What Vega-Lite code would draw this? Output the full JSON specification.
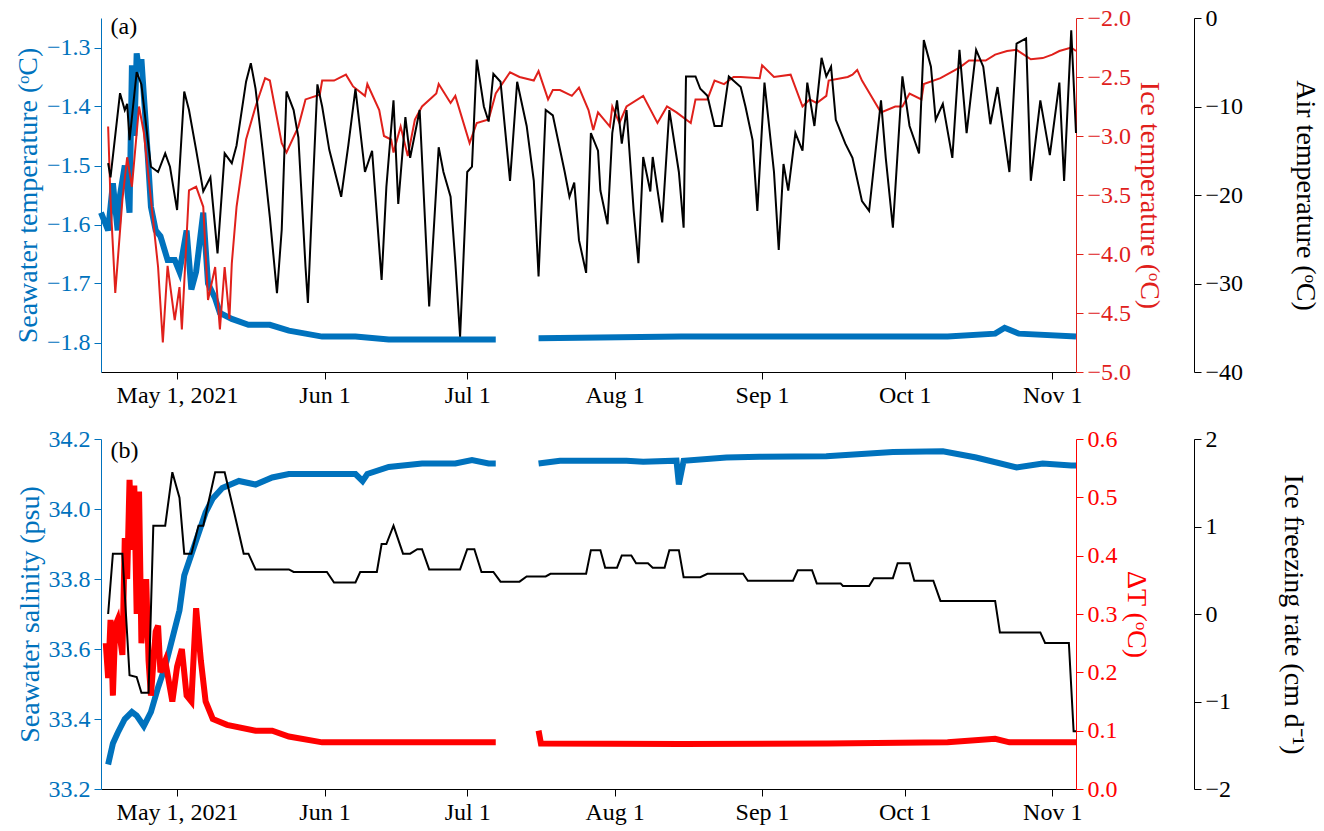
{
  "$schema": "https://vega.github.io/schema/vega-lite/v6.json",
  "padding": {"left": 14, "top": 6, "right": 5, "bottom": 2},
  "spacing": 20,
  "datasets": {
    "seaT": [
      {"t": "2021-04-15T00:00", "v": -1.58, "s": 1}, {"t": "2021-04-16T12:00", "v": -1.61, "s": 1}, {"t": "2021-04-17T12:00", "v": -1.53, "s": 1},
      {"t": "2021-04-18T12:00", "v": -1.61, "s": 1}, {"t": "2021-04-19T00:00", "v": -1.55, "s": 1}, {"t": "2021-04-20T00:00", "v": -1.5, "s": 1},
      {"t": "2021-04-21T00:00", "v": -1.58, "s": 1}, {"t": "2021-04-21T12:00", "v": -1.33, "s": 1}, {"t": "2021-04-22T00:00", "v": -1.45, "s": 1},
      {"t": "2021-04-22T12:00", "v": -1.31, "s": 1}, {"t": "2021-04-23T00:00", "v": -1.34, "s": 1}, {"t": "2021-04-23T12:00", "v": -1.32, "s": 1},
      {"t": "2021-04-24T12:00", "v": -1.44, "s": 1}, {"t": "2021-04-25T12:00", "v": -1.57, "s": 1}, {"t": "2021-04-26T12:00", "v": -1.61, "s": 1},
      {"t": "2021-04-27T12:00", "v": -1.62, "s": 1}, {"t": "2021-04-29T00:00", "v": -1.66, "s": 1}, {"t": "2021-04-30T12:00", "v": -1.66, "s": 1},
      {"t": "2021-05-01T12:00", "v": -1.68, "s": 1}, {"t": "2021-05-03T00:00", "v": -1.61, "s": 1}, {"t": "2021-05-04T00:00", "v": -1.71, "s": 1},
      {"t": "2021-05-05T00:00", "v": -1.68, "s": 1}, {"t": "2021-05-06T12:00", "v": -1.58, "s": 1}, {"t": "2021-05-07T12:00", "v": -1.7, "s": 1},
      {"t": "2021-05-09T00:00", "v": -1.725, "s": 1}, {"t": "2021-05-10T00:00", "v": -1.75, "s": 1}, {"t": "2021-05-12T12:00", "v": -1.76, "s": 1},
      {"t": "2021-05-16T00:00", "v": -1.77, "s": 1}, {"t": "2021-05-20T12:00", "v": -1.77, "s": 1}, {"t": "2021-05-24T12:00", "v": -1.78, "s": 1},
      {"t": "2021-05-31T12:00", "v": -1.79, "s": 1}, {"t": "2021-06-07T12:00", "v": -1.79, "s": 1}, {"t": "2021-06-14T12:00", "v": -1.795, "s": 1},
      {"t": "2021-06-21T12:00", "v": -1.795, "s": 1}, {"t": "2021-06-28T12:00", "v": -1.795, "s": 1}, {"t": "2021-07-07T00:00", "v": -1.795, "s": 1},
      {"t": "2021-07-16T00:00", "v": -1.793, "s": 2}, {"t": "2021-08-15T00:00", "v": -1.79, "s": 2}, {"t": "2021-09-15T00:00", "v": -1.79, "s": 2},
      {"t": "2021-10-10T00:00", "v": -1.79, "s": 2}, {"t": "2021-10-20T00:00", "v": -1.785, "s": 2}, {"t": "2021-10-22T00:00", "v": -1.775, "s": 2},
      {"t": "2021-10-25T00:00", "v": -1.785, "s": 2}, {"t": "2021-11-06T00:00", "v": -1.79, "s": 2}
    ],
    "iceT": [
      {"t": "2021-04-16T12:00", "v": -2.92}, {"t": "2021-04-17T00:00", "v": -3.54}, {"t": "2021-04-18T00:00", "v": -4.33}, {"t": "2021-04-19T12:00", "v": -3.54},
      {"t": "2021-04-20T12:00", "v": -3.18}, {"t": "2021-04-21T12:00", "v": -3.43}, {"t": "2021-04-23T00:00", "v": -2.75}, {"t": "2021-04-24T00:00", "v": -2.97},
      {"t": "2021-04-25T12:00", "v": -3.54}, {"t": "2021-04-27T00:00", "v": -4.11}, {"t": "2021-04-28T00:00", "v": -4.75}, {"t": "2021-04-29T00:00", "v": -4.1},
      {"t": "2021-04-30T12:00", "v": -4.56}, {"t": "2021-05-01T12:00", "v": -4.28}, {"t": "2021-05-02T00:00", "v": -4.64}, {"t": "2021-05-03T12:00", "v": -3.46},
      {"t": "2021-05-05T00:00", "v": -3.43}, {"t": "2021-05-06T12:00", "v": -3.6}, {"t": "2021-05-07T12:00", "v": -4.39}, {"t": "2021-05-09T00:00", "v": -4.11},
      {"t": "2021-05-10T00:00", "v": -4.64}, {"t": "2021-05-11T00:00", "v": -4.11}, {"t": "2021-05-12T00:00", "v": -4.55}, {"t": "2021-05-12T12:00", "v": -4.08},
      {"t": "2021-05-13T12:00", "v": -3.6}, {"t": "2021-05-15T12:00", "v": -3.03}, {"t": "2021-05-17T12:00", "v": -2.75}, {"t": "2021-05-19T12:00", "v": -2.51},
      {"t": "2021-05-20T12:00", "v": -2.53}, {"t": "2021-05-23T00:00", "v": -3.06}, {"t": "2021-05-24T00:00", "v": -3.14}, {"t": "2021-05-26T12:00", "v": -2.92},
      {"t": "2021-05-28T00:00", "v": -2.69}, {"t": "2021-05-31T00:00", "v": -2.65}, {"t": "2021-05-31T12:00", "v": -2.53}, {"t": "2021-06-03T00:00", "v": -2.53},
      {"t": "2021-06-05T12:00", "v": -2.48}, {"t": "2021-06-07T00:00", "v": -2.58}, {"t": "2021-06-09T12:00", "v": -2.66}, {"t": "2021-06-10T00:00", "v": -2.56},
      {"t": "2021-06-12T12:00", "v": -2.78}, {"t": "2021-06-13T12:00", "v": -3.0}, {"t": "2021-06-15T00:00", "v": -3.03}, {"t": "2021-06-15T12:00", "v": -3.14},
      {"t": "2021-06-17T00:00", "v": -2.92}, {"t": "2021-06-18T12:00", "v": -3.17}, {"t": "2021-06-20T00:00", "v": -2.86}, {"t": "2021-06-21T12:00", "v": -2.75},
      {"t": "2021-06-24T12:00", "v": -2.64}, {"t": "2021-06-25T00:00", "v": -2.56}, {"t": "2021-06-27T12:00", "v": -2.72}, {"t": "2021-06-28T12:00", "v": -2.66},
      {"t": "2021-07-01T12:00", "v": -3.06}, {"t": "2021-07-03T00:00", "v": -2.89}, {"t": "2021-07-05T12:00", "v": -2.86}, {"t": "2021-07-07T00:00", "v": -2.64},
      {"t": "2021-07-10T00:00", "v": -2.46}, {"t": "2021-07-12T00:00", "v": -2.5}, {"t": "2021-07-15T00:00", "v": -2.53}, {"t": "2021-07-16T00:00", "v": -2.45},
      {"t": "2021-07-18T00:00", "v": -2.69}, {"t": "2021-07-19T00:00", "v": -2.61}, {"t": "2021-07-20T12:00", "v": -2.61}, {"t": "2021-07-23T00:00", "v": -2.66},
      {"t": "2021-07-24T12:00", "v": -2.59}, {"t": "2021-07-26T12:00", "v": -2.78}, {"t": "2021-07-27T12:00", "v": -2.95}, {"t": "2021-07-28T12:00", "v": -2.8},
      {"t": "2021-07-31T00:00", "v": -2.92}, {"t": "2021-07-31T12:00", "v": -2.75}, {"t": "2021-08-02T00:00", "v": -2.89}, {"t": "2021-08-03T12:00", "v": -2.75},
      {"t": "2021-08-07T00:00", "v": -2.66}, {"t": "2021-08-10T00:00", "v": -2.89}, {"t": "2021-08-12T00:00", "v": -2.75}, {"t": "2021-08-14T00:00", "v": -2.8},
      {"t": "2021-08-17T00:00", "v": -2.89}, {"t": "2021-08-18T00:00", "v": -2.69}, {"t": "2021-08-20T12:00", "v": -2.69}, {"t": "2021-08-22T00:00", "v": -2.53},
      {"t": "2021-08-24T00:00", "v": -2.56}, {"t": "2021-08-26T00:00", "v": -2.5}, {"t": "2021-08-27T12:00", "v": -2.5}, {"t": "2021-08-31T12:00", "v": -2.51},
      {"t": "2021-09-01T00:00", "v": -2.4}, {"t": "2021-09-03T12:00", "v": -2.5}, {"t": "2021-09-07T00:00", "v": -2.48}, {"t": "2021-09-09T12:00", "v": -2.75},
      {"t": "2021-09-11T00:00", "v": -2.69}, {"t": "2021-09-12T12:00", "v": -2.72}, {"t": "2021-09-14T12:00", "v": -2.66}, {"t": "2021-09-15T00:00", "v": -2.53},
      {"t": "2021-09-19T00:00", "v": -2.5}, {"t": "2021-09-20T00:00", "v": -2.48}, {"t": "2021-09-21T00:00", "v": -2.44}, {"t": "2021-09-22T00:00", "v": -2.53},
      {"t": "2021-09-26T00:00", "v": -2.8}, {"t": "2021-09-29T00:00", "v": -2.75}, {"t": "2021-09-30T12:00", "v": -2.75}, {"t": "2021-10-02T00:00", "v": -2.64},
      {"t": "2021-10-04T12:00", "v": -2.69}, {"t": "2021-10-05T00:00", "v": -2.56}, {"t": "2021-10-08T12:00", "v": -2.51}, {"t": "2021-10-12T12:00", "v": -2.42},
      {"t": "2021-10-14T12:00", "v": -2.36}, {"t": "2021-10-18T00:00", "v": -2.36}, {"t": "2021-10-20T00:00", "v": -2.31}, {"t": "2021-10-22T12:00", "v": -2.28},
      {"t": "2021-10-24T12:00", "v": -2.27}, {"t": "2021-10-27T12:00", "v": -2.35}, {"t": "2021-10-30T00:00", "v": -2.34}, {"t": "2021-11-01T00:00", "v": -2.31},
      {"t": "2021-11-02T12:00", "v": -2.28}, {"t": "2021-11-05T00:00", "v": -2.25}, {"t": "2021-11-06T00:00", "v": -2.28}
    ],
    "airT": [
      {"t": "2021-04-16T12:00", "v": -16.4}, {"t": "2021-04-17T00:00", "v": -18}, {"t": "2021-04-19T00:00", "v": -8.5}, {"t": "2021-04-20T00:00", "v": -10.4},
      {"t": "2021-04-20T12:00", "v": -9.7}, {"t": "2021-04-21T00:00", "v": -13.8}, {"t": "2021-04-22T12:00", "v": -6.1}, {"t": "2021-04-23T12:00", "v": -7.5},
      {"t": "2021-04-24T12:00", "v": -12.2}, {"t": "2021-04-25T12:00", "v": -16.8}, {"t": "2021-04-27T00:00", "v": -17.4}, {"t": "2021-04-28T12:00", "v": -15.3},
      {"t": "2021-04-29T12:00", "v": -16.8}, {"t": "2021-05-01T00:00", "v": -21.7}, {"t": "2021-05-02T12:00", "v": -8.3}, {"t": "2021-05-03T12:00", "v": -10.4},
      {"t": "2021-05-05T00:00", "v": -14.9}, {"t": "2021-05-06T12:00", "v": -19.6}, {"t": "2021-05-08T00:00", "v": -18}, {"t": "2021-05-09T12:00", "v": -26.6},
      {"t": "2021-05-11T00:00", "v": -15.3}, {"t": "2021-05-12T12:00", "v": -16.4}, {"t": "2021-05-13T12:00", "v": -14.4}, {"t": "2021-05-15T12:00", "v": -7.2},
      {"t": "2021-05-16T12:00", "v": -5.1}, {"t": "2021-05-17T12:00", "v": -8}, {"t": "2021-05-19T00:00", "v": -15}, {"t": "2021-05-20T12:00", "v": -22.5},
      {"t": "2021-05-22T00:00", "v": -31.1}, {"t": "2021-05-23T00:00", "v": -23.9}, {"t": "2021-05-24T00:00", "v": -8.3}, {"t": "2021-05-25T12:00", "v": -10.4},
      {"t": "2021-05-26T12:00", "v": -13.5}, {"t": "2021-05-28T00:00", "v": -28.1}, {"t": "2021-05-28T12:00", "v": -32.2}, {"t": "2021-05-29T12:00", "v": -19.6},
      {"t": "2021-05-30T12:00", "v": -7.5}, {"t": "2021-05-31T12:00", "v": -10}, {"t": "2021-06-02T00:00", "v": -14.9}, {"t": "2021-06-04T12:00", "v": -20.2},
      {"t": "2021-06-06T00:00", "v": -14.4}, {"t": "2021-06-07T12:00", "v": -8}, {"t": "2021-06-09T12:00", "v": -17.4}, {"t": "2021-06-11T00:00", "v": -15},
      {"t": "2021-06-13T00:00", "v": -29.6}, {"t": "2021-06-14T00:00", "v": -19.1}, {"t": "2021-06-15T12:00", "v": -9.3}, {"t": "2021-06-16T12:00", "v": -21},
      {"t": "2021-06-18T00:00", "v": -11.2}, {"t": "2021-06-19T00:00", "v": -15.8}, {"t": "2021-06-21T00:00", "v": -10.4}, {"t": "2021-06-23T00:00", "v": -32.6},
      {"t": "2021-06-25T00:00", "v": -14.6}, {"t": "2021-06-26T00:00", "v": -17.4}, {"t": "2021-06-27T12:00", "v": -20.2}, {"t": "2021-06-28T12:00", "v": -27.6},
      {"t": "2021-06-29T12:00", "v": -36}, {"t": "2021-07-01T00:00", "v": -17.4}, {"t": "2021-07-02T00:00", "v": -16.8}, {"t": "2021-07-03T00:00", "v": -4.7},
      {"t": "2021-07-04T12:00", "v": -10}, {"t": "2021-07-05T12:00", "v": -11.7}, {"t": "2021-07-06T12:00", "v": -6.3}, {"t": "2021-07-08T00:00", "v": -7.2},
      {"t": "2021-07-10T00:00", "v": -18.4}, {"t": "2021-07-11T12:00", "v": -7.2}, {"t": "2021-07-13T12:00", "v": -12.2}, {"t": "2021-07-15T00:00", "v": -18.4},
      {"t": "2021-07-16T00:00", "v": -29.2}, {"t": "2021-07-17T12:00", "v": -10.4}, {"t": "2021-07-19T00:00", "v": -11}, {"t": "2021-07-21T12:00", "v": -17.4},
      {"t": "2021-07-22T12:00", "v": -20.2}, {"t": "2021-07-23T12:00", "v": -18.6}, {"t": "2021-07-24T12:00", "v": -25.1}, {"t": "2021-07-26T00:00", "v": -28.8},
      {"t": "2021-07-27T00:00", "v": -13}, {"t": "2021-07-28T12:00", "v": -15}, {"t": "2021-07-29T00:00", "v": -19.5}, {"t": "2021-07-30T12:00", "v": -23.3},
      {"t": "2021-07-31T12:00", "v": -13}, {"t": "2021-08-01T12:00", "v": -9.3}, {"t": "2021-08-02T12:00", "v": -14.2}, {"t": "2021-08-03T12:00", "v": -10.4},
      {"t": "2021-08-05T00:00", "v": -21.8}, {"t": "2021-08-06T00:00", "v": -27.7}, {"t": "2021-08-07T00:00", "v": -15.7}, {"t": "2021-08-08T12:00", "v": -19.6},
      {"t": "2021-08-09T00:00", "v": -15.7}, {"t": "2021-08-11T00:00", "v": -23.1}, {"t": "2021-08-12T12:00", "v": -10.4}, {"t": "2021-08-14T12:00", "v": -17.4},
      {"t": "2021-08-15T12:00", "v": -23.7}, {"t": "2021-08-16T00:00", "v": -6.6}, {"t": "2021-08-18T00:00", "v": -6.6}, {"t": "2021-08-19T00:00", "v": -8},
      {"t": "2021-08-20T12:00", "v": -8.8}, {"t": "2021-08-22T00:00", "v": -12.2}, {"t": "2021-08-23T12:00", "v": -12.2}, {"t": "2021-08-25T00:00", "v": -6.6},
      {"t": "2021-08-27T12:00", "v": -7.8}, {"t": "2021-08-28T12:00", "v": -10}, {"t": "2021-08-30T00:00", "v": -13.8}, {"t": "2021-08-31T00:00", "v": -21.8},
      {"t": "2021-09-01T12:00", "v": -7.3}, {"t": "2021-09-03T12:00", "v": -17.4}, {"t": "2021-09-04T12:00", "v": -26.2}, {"t": "2021-09-05T12:00", "v": -16.5},
      {"t": "2021-09-06T12:00", "v": -19.5}, {"t": "2021-09-08T00:00", "v": -13}, {"t": "2021-09-09T12:00", "v": -15}, {"t": "2021-09-10T12:00", "v": -7.3},
      {"t": "2021-09-12T00:00", "v": -12.2}, {"t": "2021-09-13T12:00", "v": -4.5}, {"t": "2021-09-14T12:00", "v": -6.6}, {"t": "2021-09-15T12:00", "v": -5.5},
      {"t": "2021-09-16T12:00", "v": -11.5}, {"t": "2021-09-18T12:00", "v": -14.2}, {"t": "2021-09-20T00:00", "v": -15.8}, {"t": "2021-09-22T00:00", "v": -20.7},
      {"t": "2021-09-23T12:00", "v": -21.8}, {"t": "2021-09-26T00:00", "v": -9.3}, {"t": "2021-09-27T00:00", "v": -15.8}, {"t": "2021-09-28T12:00", "v": -23.7},
      {"t": "2021-09-30T12:00", "v": -6.6}, {"t": "2021-10-02T00:00", "v": -12.2}, {"t": "2021-10-04T00:00", "v": -15.3}, {"t": "2021-10-05T00:00", "v": -2.5},
      {"t": "2021-10-06T12:00", "v": -5.5}, {"t": "2021-10-07T12:00", "v": -11.5}, {"t": "2021-10-09T00:00", "v": -9.7}, {"t": "2021-10-11T00:00", "v": -15.8},
      {"t": "2021-10-12T12:00", "v": -3.6}, {"t": "2021-10-14T00:00", "v": -13}, {"t": "2021-10-16T00:00", "v": -3.6}, {"t": "2021-10-17T12:00", "v": -5.5},
      {"t": "2021-10-19T00:00", "v": -12}, {"t": "2021-10-20T12:00", "v": -7.8}, {"t": "2021-10-23T00:00", "v": -17.4}, {"t": "2021-10-24T12:00", "v": -2.9},
      {"t": "2021-10-26T12:00", "v": -2.3}, {"t": "2021-10-27T12:00", "v": -18.4}, {"t": "2021-10-29T12:00", "v": -9.3}, {"t": "2021-10-31T12:00", "v": -15.5},
      {"t": "2021-11-02T12:00", "v": -7.3}, {"t": "2021-11-03T12:00", "v": -18.4}, {"t": "2021-11-05T00:00", "v": -1.4}, {"t": "2021-11-06T00:00", "v": -13}
    ],
    "sal": [
      {"t": "2021-04-16T12:00", "v": 33.27, "s": 1}, {"t": "2021-04-17T12:00", "v": 33.33, "s": 1}, {"t": "2021-04-18T12:00", "v": 33.36, "s": 1},
      {"t": "2021-04-20T00:00", "v": 33.4, "s": 1}, {"t": "2021-04-21T12:00", "v": 33.42, "s": 1}, {"t": "2021-04-22T12:00", "v": 33.41, "s": 1},
      {"t": "2021-04-24T00:00", "v": 33.38, "s": 1}, {"t": "2021-04-25T12:00", "v": 33.42, "s": 1}, {"t": "2021-04-27T00:00", "v": 33.49, "s": 1},
      {"t": "2021-04-28T12:00", "v": 33.55, "s": 1}, {"t": "2021-04-30T00:00", "v": 33.63, "s": 1}, {"t": "2021-05-01T12:00", "v": 33.71, "s": 1},
      {"t": "2021-05-02T12:00", "v": 33.81, "s": 1}, {"t": "2021-05-04T00:00", "v": 33.87, "s": 1}, {"t": "2021-05-05T12:00", "v": 33.93, "s": 1},
      {"t": "2021-05-07T00:00", "v": 33.99, "s": 1}, {"t": "2021-05-08T12:00", "v": 34.03, "s": 1}, {"t": "2021-05-10T12:00", "v": 34.06, "s": 1},
      {"t": "2021-05-14T00:00", "v": 34.08, "s": 1}, {"t": "2021-05-17T12:00", "v": 34.07, "s": 1}, {"t": "2021-05-21T00:00", "v": 34.09, "s": 1},
      {"t": "2021-05-24T12:00", "v": 34.1, "s": 1}, {"t": "2021-05-31T12:00", "v": 34.1, "s": 1}, {"t": "2021-06-07T12:00", "v": 34.1, "s": 1},
      {"t": "2021-06-09T00:00", "v": 34.08, "s": 1}, {"t": "2021-06-10T00:00", "v": 34.1, "s": 1}, {"t": "2021-06-14T12:00", "v": 34.12, "s": 1},
      {"t": "2021-06-21T12:00", "v": 34.13, "s": 1}, {"t": "2021-06-28T12:00", "v": 34.13, "s": 1}, {"t": "2021-07-02T00:00", "v": 34.14, "s": 1},
      {"t": "2021-07-05T12:00", "v": 34.13, "s": 1}, {"t": "2021-07-07T00:00", "v": 34.13, "s": 1},
      {"t": "2021-07-16T00:00", "v": 34.13, "s": 2}, {"t": "2021-07-20T12:00", "v": 34.138, "s": 2}, {"t": "2021-08-03T12:00", "v": 34.138, "s": 2},
      {"t": "2021-08-07T00:00", "v": 34.135, "s": 2}, {"t": "2021-08-14T00:00", "v": 34.138, "s": 2}, {"t": "2021-08-14T12:00", "v": 34.07, "s": 2},
      {"t": "2021-08-15T12:00", "v": 34.138, "s": 2}, {"t": "2021-08-24T12:00", "v": 34.147, "s": 2}, {"t": "2021-08-31T12:00", "v": 34.149, "s": 2},
      {"t": "2021-09-14T12:00", "v": 34.151, "s": 2}, {"t": "2021-09-28T12:00", "v": 34.163, "s": 2}, {"t": "2021-10-09T00:00", "v": 34.165, "s": 2},
      {"t": "2021-10-16T00:00", "v": 34.147, "s": 2}, {"t": "2021-10-24T12:00", "v": 34.119, "s": 2}, {"t": "2021-10-30T00:00", "v": 34.13, "s": 2},
      {"t": "2021-11-05T00:00", "v": 34.124, "s": 2}, {"t": "2021-11-06T00:00", "v": 34.124, "s": 2}
    ],
    "dT": [
      {"t": "2021-04-16T00:00", "v": 0.25, "s": 1}, {"t": "2021-04-16T12:00", "v": 0.19, "s": 1}, {"t": "2021-04-17T00:00", "v": 0.29, "s": 1},
      {"t": "2021-04-17T12:00", "v": 0.16, "s": 1}, {"t": "2021-04-18T00:00", "v": 0.28, "s": 1}, {"t": "2021-04-18T12:00", "v": 0.29, "s": 1},
      {"t": "2021-04-19T12:00", "v": 0.23, "s": 1}, {"t": "2021-04-20T00:00", "v": 0.43, "s": 1}, {"t": "2021-04-20T12:00", "v": 0.36, "s": 1},
      {"t": "2021-04-21T00:00", "v": 0.53, "s": 1}, {"t": "2021-04-21T12:00", "v": 0.41, "s": 1}, {"t": "2021-04-22T00:00", "v": 0.52, "s": 1},
      {"t": "2021-04-22T12:00", "v": 0.3, "s": 1}, {"t": "2021-04-23T00:00", "v": 0.51, "s": 1}, {"t": "2021-04-23T12:00", "v": 0.25, "s": 1},
      {"t": "2021-04-24T12:00", "v": 0.36, "s": 1}, {"t": "2021-04-25T00:00", "v": 0.22, "s": 1}, {"t": "2021-04-25T12:00", "v": 0.16, "s": 1},
      {"t": "2021-04-26T12:00", "v": 0.27, "s": 1}, {"t": "2021-04-27T00:00", "v": 0.28, "s": 1}, {"t": "2021-04-27T12:00", "v": 0.2, "s": 1},
      {"t": "2021-04-28T12:00", "v": 0.22, "s": 1}, {"t": "2021-04-30T00:00", "v": 0.15, "s": 1}, {"t": "2021-05-01T00:00", "v": 0.21, "s": 1},
      {"t": "2021-05-02T00:00", "v": 0.24, "s": 1}, {"t": "2021-05-03T00:00", "v": 0.16, "s": 1}, {"t": "2021-05-04T00:00", "v": 0.15, "s": 1},
      {"t": "2021-05-05T00:00", "v": 0.31, "s": 1}, {"t": "2021-05-06T00:00", "v": 0.22, "s": 1}, {"t": "2021-05-07T00:00", "v": 0.15, "s": 1},
      {"t": "2021-05-08T12:00", "v": 0.12, "s": 1}, {"t": "2021-05-11T12:00", "v": 0.11, "s": 1}, {"t": "2021-05-17T12:00", "v": 0.1, "s": 1},
      {"t": "2021-05-21T00:00", "v": 0.1, "s": 1}, {"t": "2021-05-24T12:00", "v": 0.09, "s": 1}, {"t": "2021-05-31T12:00", "v": 0.08, "s": 1},
      {"t": "2021-06-07T12:00", "v": 0.08, "s": 1}, {"t": "2021-06-21T12:00", "v": 0.08, "s": 1}, {"t": "2021-07-07T00:00", "v": 0.08, "s": 1},
      {"t": "2021-07-16T00:00", "v": 0.1, "s": 2}, {"t": "2021-07-16T12:00", "v": 0.078, "s": 2}, {"t": "2021-08-15T00:00", "v": 0.077, "s": 2},
      {"t": "2021-09-15T00:00", "v": 0.078, "s": 2}, {"t": "2021-10-10T00:00", "v": 0.08, "s": 2}, {"t": "2021-10-20T00:00", "v": 0.086, "s": 2},
      {"t": "2021-10-23T00:00", "v": 0.08, "s": 2}, {"t": "2021-11-06T00:00", "v": 0.08, "s": 2}
    ],
    "rate": [
      {"t": "2021-04-16T12:00", "v": 0.0}, {"t": "2021-04-17T12:00", "v": 0.69}, {"t": "2021-04-19T12:00", "v": 0.69}, {"t": "2021-04-21T00:00", "v": -0.7},
      {"t": "2021-04-22T12:00", "v": -0.72}, {"t": "2021-04-23T12:00", "v": -0.9}, {"t": "2021-04-25T00:00", "v": -0.9}, {"t": "2021-04-26T00:00", "v": 1.01},
      {"t": "2021-04-28T12:00", "v": 1.01}, {"t": "2021-04-30T00:00", "v": 1.62}, {"t": "2021-05-01T12:00", "v": 1.33}, {"t": "2021-05-02T12:00", "v": 0.69},
      {"t": "2021-05-04T00:00", "v": 0.69}, {"t": "2021-05-05T12:00", "v": 1.01}, {"t": "2021-05-06T12:00", "v": 1.01}, {"t": "2021-05-09T00:00", "v": 1.62},
      {"t": "2021-05-11T00:00", "v": 1.62}, {"t": "2021-05-13T00:00", "v": 1.16}, {"t": "2021-05-15T00:00", "v": 0.69}, {"t": "2021-05-16T00:00", "v": 0.69},
      {"t": "2021-05-17T12:00", "v": 0.51}, {"t": "2021-05-24T12:00", "v": 0.51}, {"t": "2021-05-25T12:00", "v": 0.48}, {"t": "2021-06-01T12:00", "v": 0.48},
      {"t": "2021-06-03T00:00", "v": 0.36}, {"t": "2021-06-07T12:00", "v": 0.36}, {"t": "2021-06-08T12:00", "v": 0.48}, {"t": "2021-06-12T00:00", "v": 0.48},
      {"t": "2021-06-13T00:00", "v": 0.8}, {"t": "2021-06-14T00:00", "v": 0.8}, {"t": "2021-06-15T12:00", "v": 1.01}, {"t": "2021-06-17T12:00", "v": 0.69},
      {"t": "2021-06-19T00:00", "v": 0.69}, {"t": "2021-06-20T12:00", "v": 0.74}, {"t": "2021-06-21T12:00", "v": 0.74}, {"t": "2021-06-23T00:00", "v": 0.51},
      {"t": "2021-06-29T12:00", "v": 0.51}, {"t": "2021-07-01T00:00", "v": 0.74}, {"t": "2021-07-02T12:00", "v": 0.74}, {"t": "2021-07-04T00:00", "v": 0.48},
      {"t": "2021-07-06T12:00", "v": 0.48}, {"t": "2021-07-08T00:00", "v": 0.37}, {"t": "2021-07-12T00:00", "v": 0.37}, {"t": "2021-07-13T12:00", "v": 0.43},
      {"t": "2021-07-17T12:00", "v": 0.43}, {"t": "2021-07-18T12:00", "v": 0.46}, {"t": "2021-07-26T00:00", "v": 0.46}, {"t": "2021-07-27T00:00", "v": 0.73},
      {"t": "2021-07-29T00:00", "v": 0.73}, {"t": "2021-07-30T00:00", "v": 0.53}, {"t": "2021-08-01T12:00", "v": 0.53}, {"t": "2021-08-02T12:00", "v": 0.67},
      {"t": "2021-08-04T12:00", "v": 0.67}, {"t": "2021-08-05T12:00", "v": 0.58}, {"t": "2021-08-08T00:00", "v": 0.58}, {"t": "2021-08-09T00:00", "v": 0.53},
      {"t": "2021-08-11T12:00", "v": 0.53}, {"t": "2021-08-12T12:00", "v": 0.73}, {"t": "2021-08-14T12:00", "v": 0.73}, {"t": "2021-08-15T12:00", "v": 0.42},
      {"t": "2021-08-19T00:00", "v": 0.42}, {"t": "2021-08-20T12:00", "v": 0.46}, {"t": "2021-08-28T00:00", "v": 0.46}, {"t": "2021-08-29T00:00", "v": 0.38},
      {"t": "2021-09-07T12:00", "v": 0.38}, {"t": "2021-09-08T12:00", "v": 0.5}, {"t": "2021-09-11T12:00", "v": 0.5}, {"t": "2021-09-12T12:00", "v": 0.35},
      {"t": "2021-09-17T12:00", "v": 0.35}, {"t": "2021-09-18T00:00", "v": 0.32}, {"t": "2021-09-23T12:00", "v": 0.32}, {"t": "2021-09-24T12:00", "v": 0.41},
      {"t": "2021-09-28T12:00", "v": 0.41}, {"t": "2021-09-29T12:00", "v": 0.58}, {"t": "2021-10-02T00:00", "v": 0.58}, {"t": "2021-10-03T00:00", "v": 0.38},
      {"t": "2021-10-07T00:00", "v": 0.38}, {"t": "2021-10-08T12:00", "v": 0.15}, {"t": "2021-10-20T00:00", "v": 0.15}, {"t": "2021-10-21T00:00", "v": -0.21},
      {"t": "2021-10-29T12:00", "v": -0.21}, {"t": "2021-10-30T12:00", "v": -0.33}, {"t": "2021-11-04T12:00", "v": -0.33}, {"t": "2021-11-05T12:00", "v": -1.34},
      {"t": "2021-11-06T00:00", "v": -1.34}
    ],
    "labA": [{"t": "2021-04-17T00:00", "v": -1.265, "lab": "(a)"}],
    "labB": [{"t": "2021-04-17T00:00", "v": 34.165, "lab": "(b)"}]
  },
  "vconcat": [
    {
      "width": 975,
      "height": 354,
      "encoding": {
        "x": {"field": "t", "type": "temporal",
          "scale": {"domain": [{"year": 2021, "month": 4, "date": 15}, {"year": 2021, "month": 11, "date": 6}]},
          "axis": {"title": null, "values": [{"year": 2021, "month": 5, "date": 1}, {"year": 2021, "month": 6, "date": 1}, {"year": 2021, "month": 7, "date": 1}, {"year": 2021, "month": 8, "date": 1}, {"year": 2021, "month": 9, "date": 1}, {"year": 2021, "month": 10, "date": 1}, {"year": 2021, "month": 11, "date": 1}],
            "labelExpr": "month(datum.value) == 4 ? 'May 1, 2021' : timeFormat(datum.value, '%b %-d')"}}
      },
      "layer": [
        {
          "layer": [
            {"data": {"name": "seaT"}, "mark": {"type": "line", "color": "#0072bd", "strokeWidth": 6},
              "encoding": {"detail": {"field": "s"},
                "y": {"field": "v", "type": "quantitative", "scale": {"domain": [-1.85, -1.25], "nice": false},
                  "axis": {"title": "Seawater temperature (ᵒC)", "values": [-1.8, -1.7, -1.6, -1.5, -1.4, -1.3], "format": ".1f", "labelColor": "#0072bd", "titleColor": "#0072bd", "domainColor": "#0072bd", "tickColor": "#0072bd"}}}},
            {"data": {"name": "labA"}, "mark": {"type": "text", "align": "left", "font": "Liberation Serif", "fontSize": 24},
              "encoding": {"text": {"field": "lab"}, "y": {"field": "v", "type": "quantitative"}}}
          ]
        },
        {"data": {"name": "iceT"}, "mark": {"type": "line", "color": "#e0201b", "strokeWidth": 2},
          "encoding": {"y": {"field": "v", "type": "quantitative", "scale": {"domain": [-5, -2], "nice": false},
            "axis": {"orient": "right", "title": "Ice temperature (ᵒC)", "values": [-5, -4.5, -4, -3.5, -3, -2.5, -2], "labelColor": "#e0201b", "titleColor": "#e0201b", "domainColor": "#e0201b", "tickColor": "#e0201b"}}}},
        {"data": {"name": "airT"}, "mark": {"type": "line", "color": "black", "strokeWidth": 2},
          "encoding": {"y": {"field": "v", "type": "quantitative", "scale": {"domain": [-40, 0], "nice": false},
            "axis": {"orient": "right", "offset": 118, "title": "Air temperature (ᵒC)", "titlePadding": 48, "values": [-40, -30, -20, -10, 0]}}}}
      ],
      "resolve": {"scale": {"y": "independent"}}
    },
    {
      "width": 975,
      "height": 350,
      "encoding": {
        "x": {"field": "t", "type": "temporal",
          "scale": {"domain": [{"year": 2021, "month": 4, "date": 15}, {"year": 2021, "month": 11, "date": 6}]},
          "axis": {"title": null, "values": [{"year": 2021, "month": 5, "date": 1}, {"year": 2021, "month": 6, "date": 1}, {"year": 2021, "month": 7, "date": 1}, {"year": 2021, "month": 8, "date": 1}, {"year": 2021, "month": 9, "date": 1}, {"year": 2021, "month": 10, "date": 1}, {"year": 2021, "month": 11, "date": 1}],
            "labelExpr": "month(datum.value) == 4 ? 'May 1, 2021' : timeFormat(datum.value, '%b %-d')"}}
      },
      "layer": [
        {
          "layer": [
            {"data": {"name": "sal"}, "mark": {"type": "line", "color": "#0072bd", "strokeWidth": 6},
              "encoding": {"detail": {"field": "s"},
                "y": {"field": "v", "type": "quantitative", "scale": {"domain": [33.2, 34.2], "nice": false},
                  "axis": {"title": "Seawater salinity (psu)", "values": [33.2, 33.4, 33.6, 33.8, 34, 34.2], "labelColor": "#0072bd", "titleColor": "#0072bd", "domainColor": "#0072bd", "tickColor": "#0072bd"}}}},
            {"data": {"name": "labB"}, "mark": {"type": "text", "align": "left", "font": "Liberation Serif", "fontSize": 24},
              "encoding": {"text": {"field": "lab"}, "y": {"field": "v", "type": "quantitative"}}}
          ]
        },
        {"data": {"name": "dT"}, "mark": {"type": "line", "color": "#ff0000", "strokeWidth": 6},
          "encoding": {"detail": {"field": "s"}, "y": {"field": "v", "type": "quantitative", "scale": {"domain": [0, 0.6], "nice": false},
            "axis": {"orient": "right", "title": "ΔT (ᵒC)", "values": [0, 0.1, 0.2, 0.3, 0.4, 0.5, 0.6], "labelColor": "#ff0000", "titleColor": "#ff0000", "domainColor": "#ff0000", "tickColor": "#ff0000"}}}},
        {"data": {"name": "rate"}, "mark": {"type": "line", "color": "black", "strokeWidth": 2},
          "encoding": {"y": {"field": "v", "type": "quantitative", "scale": {"domain": [-2, 2], "nice": false},
            "axis": {"orient": "right", "offset": 118, "title": "Ice freezing rate (cm d⁻¹)", "titlePadding": 48, "values": [-2, -1, 0, 1, 2]}}}}
      ],
      "resolve": {"scale": {"y": "independent"}}
    }
  ],
  "config": {
    "view": {"stroke": null},
    "font": "Liberation Serif",
    "axis": {"grid": false, "labelFont": "Liberation Serif", "titleFont": "Liberation Serif", "labelFontSize": 24, "titleFontSize": 28,
      "titleFontWeight": "normal", "labelColor": "black", "titleColor": "black", "domainColor": "black", "tickColor": "black", "tickSize": 7, "labelPadding": 4, "labelFlush": false}
  }
}
